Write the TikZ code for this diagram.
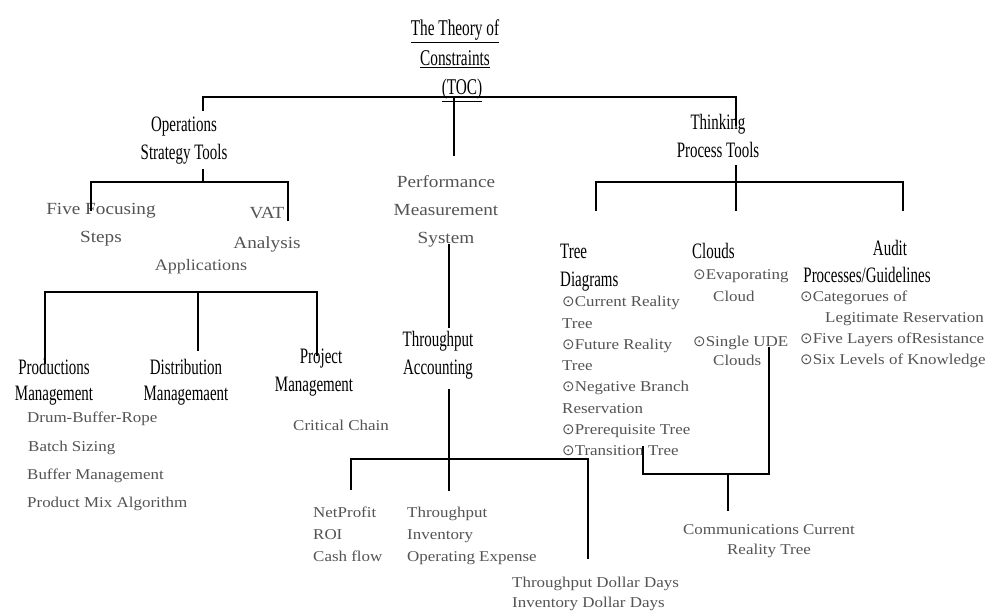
\documentclass[tikz,border=0pt]{standalone}
\usepackage{fontspec}
\setmainfont{Liberation Serif}
% narrow face for the black headings, wide face for the grey entries
\newfontfamily\condf[FakeStretch=0.68]{Liberation Serif}
\newfontfamily\widef[FakeStretch=1.13]{Liberation Serif}
\newfontfamily\symf{DejaVu Sans}
\newcommand\tocdot{{\symf ⊙}}
\definecolor{txtgray}{RGB}{84,84,84}

\tikzset{
  wire/.style={line width=1.5pt, line join=miter, line cap=rect},
  hd/.style={inner sep=0pt, anchor=north, align=center, text=black,
    font=\condf\fontsize{22}{28}\selectfont},
  hdl/.style={hd, anchor=north west, align=left},
  gbig/.style={inner sep=0pt, anchor=north, align=center, text=txtgray,
    font=\widef\fontsize{17}{28.5}\selectfont},
  gsm/.style={inner sep=0pt, anchor=north west, align=left, text=txtgray},
}

\begin{document}
\begin{tikzpicture}[x=1pt, y=-1pt]
\fill[white] (0,0) rectangle (1008,615);
\useasboundingbox (0,0) rectangle (1008,615);

% ---- root and first level ----
\node[hd, font=\condf\fontsize{22.5}{29.5}\selectfont] (toc) at (455,15)
  {\strut\underline{The Theory of}\\\underline{Constraints}\\\hspace*{14pt}\underline{(TOC)}};
\node[hd] (ost) at (184,112) {\strut Operations\\Strategy Tools};
\node[hd] (tpt) at (718,110) {\strut Thinking\\Process Tools};
\node[gbig, font=\widef\fontsize{17}{28}\selectfont] (pms) at (446,167.5)
  {\strut Performance\\Measurement\\System};

% ---- operations strategy branch ----
\node[gbig] (ffs) at (101,194.2) {\strut Five Focusing\\Steps};
\node[gbig, font=\widef\fontsize{17}{30}\selectfont] (vat) at (267,197.1) {\strut VAT\\Analysis};
\node[gbig, font=\widef\fontsize{16}{20}\selectfont] (app) at (201,255.8) {\strut Applications};

\node[hd, font=\condf\fontsize{22}{26}\selectfont] (prod) at (54,356) {\strut Productions\\Management};
\node[hd, font=\condf\fontsize{22}{26}\selectfont] (dist) at (186,356) {\strut Distribution\\Managemaent};
\node[hd] (proj) at (314,344) {\strut\hspace*{14pt}Project\\Management};

\node[gsm, font=\widef\fontsize{15}{28.3}\selectfont] (prodlist) at (27,402.7)
  {\strut Drum-Buffer-Rope\\\hspace*{1pt}Batch Sizing\\Buffer Management\\Product Mix Algorithm};
\node[gsm, font=\widef\fontsize{15}{21}\selectfont] (crit) at (293,415.8) {\strut Critical Chain};

% ---- performance measurement branch ----
\node[hd] (ta) at (438,327) {\strut Throughput\\Accounting};
\node[gsm, font=\widef\fontsize{15}{22}\selectfont] (np) at (313,502.1) {\strut NetProfit\\ROI\\Cash flow};
\node[gsm, font=\widef\fontsize{15}{22}\selectfont] (tio) at (407,502.1)
  {\strut Throughput\\Inventory\\Operating Expense};
\node[gsm, font=\widef\fontsize{15}{20}\selectfont] (tdd) at (512,573.5)
  {\strut Throughput Dollar Days\\Inventory Dollar Days};

% ---- thinking process branch ----
\node[hdl] (tree) at (560,239) {\strut Tree\\Diagrams};
\node[hdl] (clouds) at (692,239) {\strut Clouds};
\node[hd, font=\condf\fontsize{22}{27}\selectfont] (audit) at (867,236)
  {\strut\hspace*{46pt}Audit\\Processes/Guidelines};

\node[gsm, font=\widef\fontsize{15}{21.3}\selectfont] (treelist) at (562,291.6)
  {\strut\tocdot Current Reality\\Tree\\\tocdot Future Reality\\Tree\\\tocdot Negative Branch\\Reservation\\\tocdot Prerequisite Tree\\\tocdot Transition Tree};
\node[gsm, font=\widef\fontsize{15}{22}\selectfont] (evap) at (693,264.1)
  {\strut\tocdot Evaporating\\\hspace*{20pt}Cloud};
\node[gsm, font=\widef\fontsize{15}{19}\selectfont] (single) at (693,333.2)
  {\strut\tocdot Single UDE\\\hspace*{20pt}Clouds};
\node[gsm, font=\widef\fontsize{15}{21}\selectfont] (auditlist) at (800,286.8)
  {\strut\tocdot Categorues of\\\hspace*{25pt}Legitimate Reservation\\\tocdot Five Layers ofResistance\\\tocdot Six Levels of Knowledge};

\node[gsm, anchor=north, align=center, font=\widef\fontsize{15}{20}\selectfont] (comm) at (769,520.5)
  {\strut Communications Current\\Reality Tree};

% ---- connector joints ----
\coordinate (osttop) at (203,110);
\coordinate (rootL) at (203,97);
\coordinate (rootM) at (454,97);
\coordinate (rootR) at (736,97);
\coordinate (pmstop) at (454,155);
\coordinate (tpttop) at (736,125);

\coordinate (ostbot) at (203,170);
\coordinate (ostbus) at (203,182);
\coordinate (ffsbus) at (91,182);
\coordinate (vatbus) at (288,182);
\coordinate (ffstop) at (91,210);
\coordinate (vattop) at (288,220);

\coordinate (appL) at (45,292);
\coordinate (appM) at (198,292);
\coordinate (appR) at (317,292);
\coordinate (prodtop) at (45,363);
\coordinate (disttop) at (198,350);
\coordinate (projtop) at (317,355);

\coordinate (pmsbot) at (449,245);
\coordinate (tatop) at (449,327);
\coordinate (tabot) at (449,390);
\coordinate (taend) at (449,490);
\coordinate (taL) at (351,459);
\coordinate (taR) at (588,459);
\coordinate (nptop) at (351,489);
\coordinate (tddtop) at (588,558);

\coordinate (tptbot) at (736,166);
\coordinate (treebus) at (596,182);
\coordinate (auditbus) at (903,182);
\coordinate (treetop) at (596,210);
\coordinate (cloudtop) at (736,210);
\coordinate (audittop) at (903,210);

\coordinate (cldbot) at (769,348);
\coordinate (mergeR) at (769,474);
\coordinate (mergeL) at (643,474);
\coordinate (mergeM) at (728,474);
\coordinate (transbot) at (643,447);
\coordinate (commtop) at (728,510);

% ---- connectors ----
\draw[wire] (osttop) -- (rootL) -- (rootR) -- (tpttop);
\draw[wire] (rootM) -- (pmstop);

\draw[wire] (ostbot) -- (ostbus);
\draw[wire] (ffstop) -- (ffsbus) -- (vatbus) -- (vattop);

\draw[wire] (prodtop) -- (appL) -- (appR) -- (projtop);
\draw[wire] (appM) -- (disttop);

\draw[wire] (pmsbot) -- (tatop);
\draw[wire] (tabot) -- (taend);
\draw[wire] (nptop) -- (taL) -- (taR) -- (tddtop);

\draw[wire] (tptbot) -- (cloudtop);
\draw[wire] (treetop) -- (treebus) -- (auditbus) -- (audittop);

\draw[wire] (transbot) -- (mergeL) -- (mergeR) -- (cldbot);
\draw[wire] (mergeM) -- (commtop);
\end{tikzpicture}
\end{document}
